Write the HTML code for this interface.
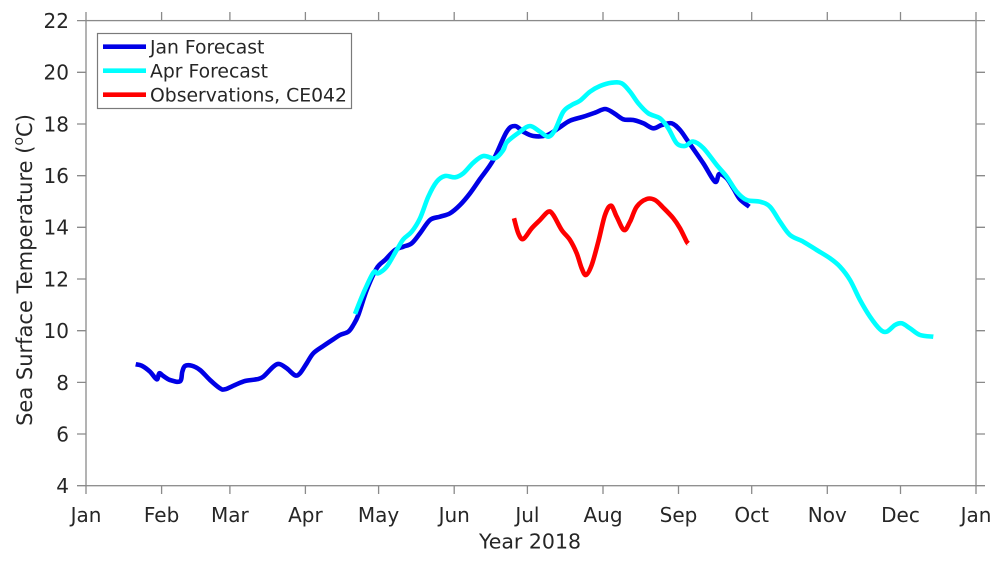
<!DOCTYPE html>
<html>
<head>
<meta charset="utf-8">
<style>
  html,body{margin:0;padding:0;background:#fff;}
  svg{display:block;}
  text{font-family:"DejaVu Sans","Liberation Sans",sans-serif;fill:#262626;}
</style>
</head>
<body>
<svg id="chart" width="1000" height="561" viewBox="0 0 1000 561" xmlns="http://www.w3.org/2000/svg">
  <rect width="1000" height="561" fill="#fff"/>

  <!-- Axes box -->
  <g stroke="#8a8a8a" stroke-width="1.3" fill="none">
    <rect x="86" y="20.6" width="890" height="465.1"/>
    <path d="M77 20.6H86 M77 72.3H86 M77 124H86 M77 175.7H86 M77 227.3H86 M77 279H86 M77 330.7H86 M77 382.4H86 M77 434H86 M77 485.7H86"/>
    <path d="M976 20.6H985 M976 72.3H985 M976 124H985 M976 175.7H985 M976 227.3H985 M976 279H985 M976 330.7H985 M976 382.4H985 M976 434H985 M976 485.7H985"/>
    <path d="M86 485.7V494 M161.6 485.7V494 M229.9 485.7V494 M305.4 485.7V494 M378.6 485.7V494 M454.2 485.7V494 M527.4 485.7V494 M603 485.7V494 M678.5 485.7V494 M751.7 485.7V494 M827.3 485.7V494 M900.5 485.7V494 M976 485.7V494"/>
    <path d="M86 20.6V12 M161.6 20.6V12 M229.9 20.6V12 M305.4 20.6V12 M378.6 20.6V12 M454.2 20.6V12 M527.4 20.6V12 M603 20.6V12 M678.5 20.6V12 M751.7 20.6V12 M827.3 20.6V12 M900.5 20.6V12 M976 20.6V12"/>
  </g>

  <!-- Y tick labels -->
  <g font-size="20" text-anchor="end">
    <text x="69" y="28">22</text>
    <text x="69" y="79.7">20</text>
    <text x="69" y="131.4">18</text>
    <text x="69" y="183.1">16</text>
    <text x="69" y="234.7">14</text>
    <text x="69" y="286.4">12</text>
    <text x="69" y="338.1">10</text>
    <text x="69" y="389.8">8</text>
    <text x="69" y="441.4">6</text>
    <text x="69" y="493.1">4</text>
  </g>

  <!-- X tick labels -->
  <g font-size="20" text-anchor="middle">
    <text x="86" y="522">Jan</text>
    <text x="161.6" y="522">Feb</text>
    <text x="229.9" y="522">Mar</text>
    <text x="305.4" y="522">Apr</text>
    <text x="378.6" y="522">May</text>
    <text x="454.2" y="522">Jun</text>
    <text x="527.4" y="522">Jul</text>
    <text x="603" y="522">Aug</text>
    <text x="678.5" y="522">Sep</text>
    <text x="751.7" y="522">Oct</text>
    <text x="827.3" y="522">Nov</text>
    <text x="900.5" y="522">Dec</text>
    <text x="976" y="522">Jan</text>
  </g>

  <!-- Axis labels -->
  <text x="530" y="548.5" font-size="20.5" text-anchor="middle">Year 2018</text>
  <text transform="translate(32,270) rotate(-90)" font-size="21" text-anchor="middle">Sea Surface Temperature (<tspan font-size="14" dy="-9">o</tspan><tspan dy="9">C)</tspan></text>

  <!-- Series -->
  <g id="series" fill="none" stroke-width="4.6" stroke-linejoin="round" stroke-linecap="butt">
    <polyline stroke="#0000e6" points="135.7,364.3 141.7,365.7 150,371.7 156.7,379.3 159.3,373.3 163.3,376 170,380 180,381.3 182.3,371.7 185,366 191.7,365.7 200,370 210,380 220,388.3 225,389.3 235,385 245,381 256.7,379.3 263.3,376.7 273.3,366.7 279.3,364 286.7,368.3 295,375.3 300,373.3 306.7,363.3 313.3,353.3 323.3,346 333.3,339.3 340,335 348.3,331.7 353.3,325 358.3,315 366.7,290 376.7,268.3 385,260 395,250 403.3,246.7 411.7,243.3 420,233.3 430,220 440,216.7 450,213.3 460,205 470,193.3 480,179 493.3,160 506.7,131.7 515,126 523.3,131.7 533.3,136 546.7,135.3 558.3,128.3 570,120.7 583.3,116.7 595,112.7 605,109 613.3,112.7 623.3,119.3 633.3,120 643.3,123.3 653.3,128.3 661.7,125 671.7,123.3 680,130 688.3,141.7 703.3,163.3 715,181.7 719.3,174 726.7,178.3 733.3,188.3 740,199.3 749.3,206.7"/>
    <polyline stroke="#00ffff" points="355,314 363.3,293.3 373.3,272.7 378.3,273.3 386.7,266.7 396.7,250 403.3,239.3 411.7,231.7 420,218.3 428.3,196.7 436.7,181.7 445,176 455,177.3 463.3,173.3 473.3,162.7 483.3,156 495,158.3 503.3,150 507,142 520,131.7 530,126 540,131.7 548.3,136.7 555,130 563.3,111.7 571.7,105 580,100.7 590,91.7 600,86 611.7,82.7 621.7,83.3 630,91.7 638.3,103.3 648.3,113.3 660,118.3 668.3,128.3 676.7,143.3 685,146 693,141.5 703.3,148 716.7,165 726.7,176.7 736.7,191.7 746.7,200 760,201.7 770,206.7 780,221.7 790,235 803.3,241.7 816.7,250 830,258.3 840,266.7 850,280 860,300 870,316.7 880,329.3 886.7,331.7 895,325 901.7,323.3 910,328.3 920,335 933.3,336.7"/>
    <polyline stroke="#ff0000" points="514,218.3 518.3,233.3 523.3,239 531.7,228.3 540,220 548.3,211.7 553.3,215 561.7,230 570,240 576.7,253.3 581.7,268.3 586,275 591.7,265 598.3,241.7 605,215 611,205.7 616.7,216.7 624,230 630,221.7 636.7,206.7 646.7,199 655,200 663.3,207.7 673.3,218.3 680,228.3 686.7,241.7 688.3,243.3"/>
  </g>

  <!-- Legend -->
  <rect x="97.5" y="33.5" width="254" height="75" fill="#fff" stroke="#7a7a7a" stroke-width="1.2"/>
  <g stroke-width="4.6">
    <line x1="103" y1="46.7" x2="146" y2="46.7" stroke="#0000e6"/>
    <line x1="103" y1="70.7" x2="146" y2="70.7" stroke="#00ffff"/>
    <line x1="103" y1="94.7" x2="146" y2="94.7" stroke="#ff0000"/>
  </g>
  <g font-size="18.8">
    <text x="150" y="53.3">Jan Forecast</text>
    <text x="150" y="77.3">Apr Forecast</text>
    <text x="150" y="101.3">Observations, CE042</text>
  </g>
</svg>
<script>
(function(){
  var NS="http://www.w3.org/2000/svg";
  var g=document.getElementById("series");
  var pls=g.querySelectorAll("polyline");
  for(var k=0;k<pls.length;k++){
    var pl=pls[k];
    var raw=pl.getAttribute("points").trim().split(/\s+/);
    var p=raw.map(function(s){var a=s.split(",");return [parseFloat(a[0]),parseFloat(a[1])];});
    var d="M"+p[0][0]+" "+p[0][1];
    var t=0.5;
    for(var i=0;i<p.length-1;i++){
      var p0=p[i>0?i-1:0],p1=p[i],p2=p[i+1],p3=p[i+2<p.length?i+2:p.length-1];
      var c1x=p1[0]+(p2[0]-p0[0])/6*t*2, c1y=p1[1]+(p2[1]-p0[1])/6*t*2;
      var c2x=p2[0]-(p3[0]-p1[0])/6*t*2, c2y=p2[1]-(p3[1]-p1[1])/6*t*2;
      d+=" C"+c1x.toFixed(2)+" "+c1y.toFixed(2)+" "+c2x.toFixed(2)+" "+c2y.toFixed(2)+" "+p2[0]+" "+p2[1];
    }
    var path=document.createElementNS(NS,"path");
    path.setAttribute("d",d);
    path.setAttribute("stroke",pl.getAttribute("stroke"));
    g.replaceChild(path,pl);
  }
})();
</script>
</body>
</html>
